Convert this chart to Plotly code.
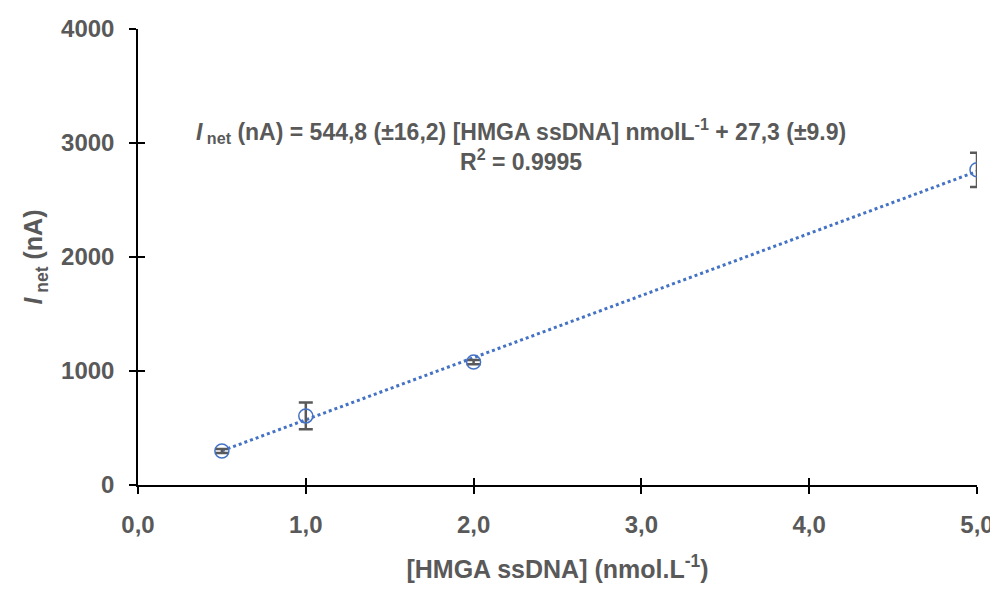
import plotly.graph_objects as go

conc = [0.5, 1.0, 2.0, 5.0]
current = [298, 606, 1078, 2765]
err = [18, 118, 18, 150]
slope = 544.8
intercept = 27.3
x_ticks = [0, 1, 2, 3, 4, 5]
x_tick_labels = ["0,0", "1,0", "2,0", "3,0", "4,0", "5,0"]
y_ticks = [0, 1000, 2000, 3000, 4000]

blue = "#4472C4"
gray = "#595959"
font_fam = "Liberation Sans, Arial, sans-serif"

fit_x = [conc[0], conc[-1]]
fit_y = [slope * v + intercept for v in fit_x]

fig = go.Figure()
fig.add_trace(go.Scatter(x=fit_x, y=fit_y, mode="lines",
                         line=dict(color=blue, width=3, dash="dot"),
                         showlegend=False, hoverinfo="skip"))
fig.add_trace(go.Scatter(x=conc, y=current, mode="markers",
                         marker=dict(symbol="circle-open", size=14, color=blue,
                                     line=dict(width=1.5, color=blue)),
                         error_y=dict(type="data", array=err, color=gray,
                                      thickness=2.5, width=7),
                         showlegend=False))
# invisible trace on overlay axes for inside ticks (crossing tick effect)
fig.add_trace(go.Scatter(x=[0], y=[0], xaxis="x2", yaxis="y2", mode="markers",
                         marker=dict(opacity=0), showlegend=False, hoverinfo="skip"))

tick_font = dict(family=font_fam, size=24, color=gray, weight="bold")

fig.update_layout(
    width=990, height=575,
    margin=dict(l=130, r=21, t=21, b=98, autoexpand=False),
    plot_bgcolor="white", paper_bgcolor="white",
    xaxis=dict(range=[0, 5], tickvals=x_ticks, ticktext=x_tick_labels,
               automargin=False, ticklabeloverflow="allow",
               showgrid=False, zeroline=False, showline=True, linecolor="black",
               linewidth=1.5, ticks="outside", ticklen=7, tickcolor="black",
               tickwidth=1.5, tickfont=tick_font, ticklabelstandoff=10,
               title=dict(text="<b>[HMGA ssDNA] (nmol.L<sup>-1</sup>)</b>",
                          font=dict(family=font_fam, size=25, color=gray),
                          standoff=44)),
    yaxis=dict(range=[0, 4000], tickvals=y_ticks, showgrid=False, zeroline=False,
               automargin=False, ticklabeloverflow="allow",
               showline=True, linecolor="black", linewidth=1.5, ticks="outside",
               ticklen=7, tickcolor="black", tickwidth=1.5, tickfont=tick_font,
               ticklabelstandoff=10,
               title=dict(text="<b><i>I</i><sub> net</sub> (nA)</b>",
                          font=dict(family=font_fam, size=25, color=gray),
                          standoff=11)),
    xaxis2=dict(range=[0, 5], tickvals=x_ticks, overlaying="x", side="bottom",
                automargin=False,
                showticklabels=False, showgrid=False, zeroline=False,
                ticks="inside", ticklen=7, tickcolor="black", tickwidth=1.5),
    yaxis2=dict(range=[0, 4000], tickvals=y_ticks, overlaying="y", side="left",
                automargin=False,
                showticklabels=False, showgrid=False, zeroline=False,
                ticks="inside", ticklen=7, tickcolor="black", tickwidth=1.5),
    annotations=[dict(
        x=2.28, y=2985, xref="x", yref="y", showarrow=False,
        text=("<b><i>I</i><sub> net</sub> (nA) = 544,8 (±16,2) [HMGA ssDNA] nmolL<sup>-1</sup>"
              " + 27,3 (±9.9)<br>R<sup>2</sup> = 0.9995</b>"),
        font=dict(family=font_fam, size=23, color=gray), align="center")],
)

fig.write_html("out.html", config={"displayModeBar": False})
